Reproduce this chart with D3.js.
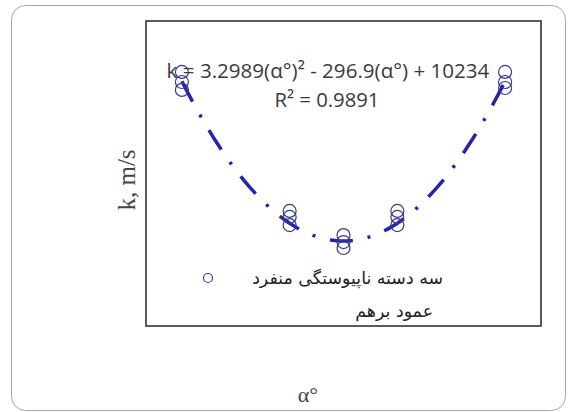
<!DOCTYPE html>
<html>
  <head>
    <meta charset="utf-8">
    <title>k vs alpha</title>
    <script src="https://d3js.org/d3.v7.min.js"></script>
    <style>
      body { margin: 0; background: #fff; }
    </style>
  </head>
  <body>
    <svg width="568" height="412"></svg>
    <script>
      // values
      const alphaDeg = [0, 0, 0, 30, 30, 30, 45, 45, 45, 60, 60, 60, 90, 90, 90];
      const kValues = [10620, 10200, 9870, 4810, 4560, 4220, 3800, 3510, 3260, 4810, 4560, 4220, 10620, 10200, 9950];
      const trendCoef = [3.2989, -296.9, 10234]; // a, b, c of the fitted polynomial
      const equationLabel = "k = 3.2989(α°)² - 296.9(α°) + 10234";
      const r2Label = "R² = 0.9891";
      const legendLines = ["سه دسته ناپیوستگی منفرد", "عمود برهم"];
      const xTitle = "α°";
      const yTitle = "k, m/s";

      const svg = d3.select("svg");
      const plot = {left: 146, top: 21, right: 541, bottom: 326};

      const xScale = d3.scaleLinear().domain([-10, 100]).range([plot.left, plot.right]);
      const yScale = d3.scaleLinear().domain([0, 12750]).range([plot.bottom, plot.top]);

      // shrink / grow a text so that it covers the measured width
      function fit(sel, target) {
        const fs = parseFloat(sel.attr("font-size"));
        const w = sel.node().getComputedTextLength();
        sel.attr("font-size", (fs * target / w).toFixed(2));
      }

      // outer frame
      svg.append("rect")
        .attr("x", 11.5).attr("y", 5.5)
        .attr("width", 554).attr("height", 405)
        .attr("rx", 14)
        .attr("fill", "#fff")
        .attr("stroke", "#a6a6a6")
        .attr("stroke-width", 1);

      // plot area
      svg.append("rect")
        .attr("x", plot.left).attr("y", plot.top)
        .attr("width", plot.right - plot.left)
        .attr("height", plot.bottom - plot.top)
        .attr("fill", "#fff")
        .attr("stroke", "#333")
        .attr("stroke-width", 1.6);

      // trendline
      const trend = d3.range(0, 90.001, 0.5).map(a => [a, trendCoef[0] * a * a + trendCoef[1] * a + trendCoef[2]]);
      const line = d3.line().x(d => xScale(d[0])).y(d => yScale(d[1]));
      svg.append("path")
        .datum(trend)
        .attr("d", line)
        .attr("fill", "none")
        .attr("stroke", "#2424a6")
        .attr("stroke-width", 3.5)
        .attr("stroke-dasharray", "23,15,3,15");

      // points
      svg.selectAll("circle.pt")
        .data(alphaDeg.map((a, i) => [a, kValues[i]]))
        .enter().append("circle")
          .attr("class", "pt")
          .attr("cx", d => xScale(d[0]))
          .attr("cy", d => yScale(d[1]))
          .attr("r", 6.5)
          .attr("fill", "none")
          .attr("stroke", "#3a3a8c")
          .attr("stroke-width", 1.2);

      // equation + R²
      const eq = svg.append("text")
        .attr("x", 328).attr("y", 78)
        .attr("text-anchor", "middle")
        .attr("font-family", "Open Sans, sans-serif")
        .attr("font-size", 16)
        .attr("fill", "#3a3a3a")
        .text(equationLabel);
      fit(eq, 323);
      const r2 = svg.append("text")
        .attr("x", 327).attr("y", 107)
        .attr("text-anchor", "middle")
        .attr("font-family", "Open Sans, sans-serif")
        .attr("font-size", 16)
        .attr("fill", "#3a3a3a")
        .text(r2Label);
      fit(r2, 105);

      // legend
      svg.append("circle")
        .attr("cx", 208).attr("cy", 278).attr("r", 4.5)
        .attr("fill", "none")
        .attr("stroke", "#3a3a8c")
        .attr("stroke-width", 1.2);
      const lg1 = svg.append("text")
        .attr("x", 443).attr("y", 284)
        .attr("text-anchor", "end")
        .attr("font-family", "DejaVu Sans, sans-serif")
        .attr("font-size", 14)
        .attr("fill", "#222")
        .text(legendLines[0]);
      fit(lg1, 191);
      svg.append("text")
        .attr("x", 433).attr("y", 317)
        .attr("text-anchor", "end")
        .attr("font-family", "DejaVu Sans, sans-serif")
        .attr("font-size", lg1.attr("font-size"))
        .attr("fill", "#222")
        .text(legendLines[1]);

      // axis titles
      svg.append("text")
        .attr("transform", "translate(135,180) rotate(-90)")
        .attr("text-anchor", "middle")
        .attr("font-family", "Liberation Serif, serif")
        .attr("font-size", 25)
        .attr("fill", "#444")
        .text(yTitle);
      svg.append("text")
        .attr("x", 308).attr("y", 402)
        .attr("text-anchor", "middle")
        .attr("font-family", "Liberation Serif, serif")
        .attr("font-size", 22)
        .attr("fill", "#444")
        .text(xTitle);
    </script>
  </body>
</html>
